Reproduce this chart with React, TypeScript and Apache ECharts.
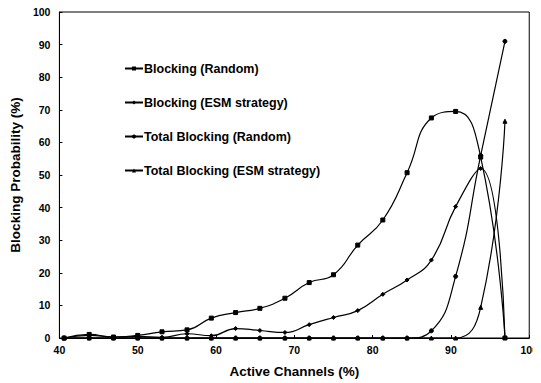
import React, { useEffect, useRef } from "react";
import * as echarts from "echarts";

const activeChannels = [40.6, 43.8, 46.9, 50, 53.1, 56.3, 59.4, 62.5, 65.6, 68.8, 71.9, 75, 78.1, 81.3, 84.4, 87.5, 90.6, 93.8, 96.9];
const blockingRandom = [0, 1.1, 0.3, 0.8, 1.9, 2.5, 6.1, 7.8, 9.1, 12.2, 17, 19.4, 28.5, 36.2, 50.7, 67.5, 69.5, 55.5, 0];
const blockingESM = [0, 0.8, 0.3, 0.5, 0.2, 1.3, 0.7, 2.9, 2.3, 1.7, 4.1, 6.3, 8.4, 13.4, 17.8, 23.9, 40.3, 52, 0];
const totalRandom = [0, 0, 0, 0, 0, 0, 0, 0, 0, 0, 0, 0, 0, 0, 0, 2.2, 18.9, 56, 91];
const totalESM = [0, 0, 0, 0, 0, 0, 0, 0, 0, 0, 0, 0, 0, 0, 0, 0, 0, 9.4, 66.5];

const seriesNames = [
  "Blocking (Random)",
  "Blocking (ESM strategy)",
  "Total Blocking (Random)",
  "Total Blocking (ESM strategy)",
];
const seriesValues = [blockingRandom, blockingESM, totalRandom, totalESM];
const symbols = ["rect", "diamond", "circle", "triangle"];

const FONT = "'Liberation Sans', Arial, sans-serif";

export default function App() {
  const ref = useRef<HTMLDivElement>(null);
  useEffect(() => {
    if (!ref.current) return;
    const chart = echarts.init(ref.current, undefined, { renderer: "svg" });
    chart.setOption({
      animation: false,
      backgroundColor: "#ffffff",
      textStyle: { fontFamily: FONT },
      grid: {
        left: 58,
        right: 6,
        top: 12,
        bottom: 44,
        show: true,
        borderColor: "#000",
        borderWidth: 1,
        backgroundColor: "transparent",
      },
      legend: {
        orient: "vertical",
        left: 119,
        top: 57,
        itemGap: 21,
        itemWidth: 18,
        itemHeight: 5,
        data: seriesNames,
        textStyle: {
          color: "#000",
          fontWeight: "bold",
          fontSize: 12.5,
          fontFamily: FONT,
          padding: [0, 0, 0, -4],
        },
      },
      xAxis: {
        type: "value",
        min: 40,
        max: 100,
        interval: 10,
        name: "Active Channels (%)",
        nameLocation: "middle",
        nameGap: 26,
        nameTextStyle: { color: "#000", fontWeight: "bold", fontSize: 13.5, fontFamily: FONT },
        axisLine: { lineStyle: { color: "#000", width: 1 } },
        axisTick: { show: true, inside: true, length: 3, lineStyle: { color: "#000" } },
        axisLabel: { color: "#000", fontWeight: "bold", fontSize: 10.5, margin: 6, fontFamily: FONT },
        splitLine: { show: false },
      },
      yAxis: {
        type: "value",
        min: 0,
        max: 100,
        interval: 10,
        name: "Blocking Probability (%)",
        nameLocation: "middle",
        nameGap: 28,
        nameTextStyle: { color: "#000", fontWeight: "bold", fontSize: 13.5, fontFamily: FONT },
        axisLine: { show: true, lineStyle: { color: "#000", width: 1 } },
        axisTick: { show: true, inside: true, length: 3, lineStyle: { color: "#000" } },
        axisLabel: { color: "#000", fontWeight: "bold", fontSize: 10.5, margin: 9, fontFamily: FONT },
        splitLine: { show: false },
      },
      series: seriesNames.map((name, i) => ({
        name,
        type: "line",
        smooth: 0.5,
        symbol: symbols[i],
        symbolSize: 4,
        showSymbol: true,
        lineStyle: { color: "#000", width: 1.2 },
        itemStyle: { color: "#000", borderColor: "#000" },
        data: activeChannels.map((x, j) => [x, seriesValues[i][j]]),
      })),
    });
    return () => chart.dispose();
  }, []);
  return <div ref={ref} style={{ width: 541, height: 383, marginLeft: -8, marginTop: -8 }} />;
}
